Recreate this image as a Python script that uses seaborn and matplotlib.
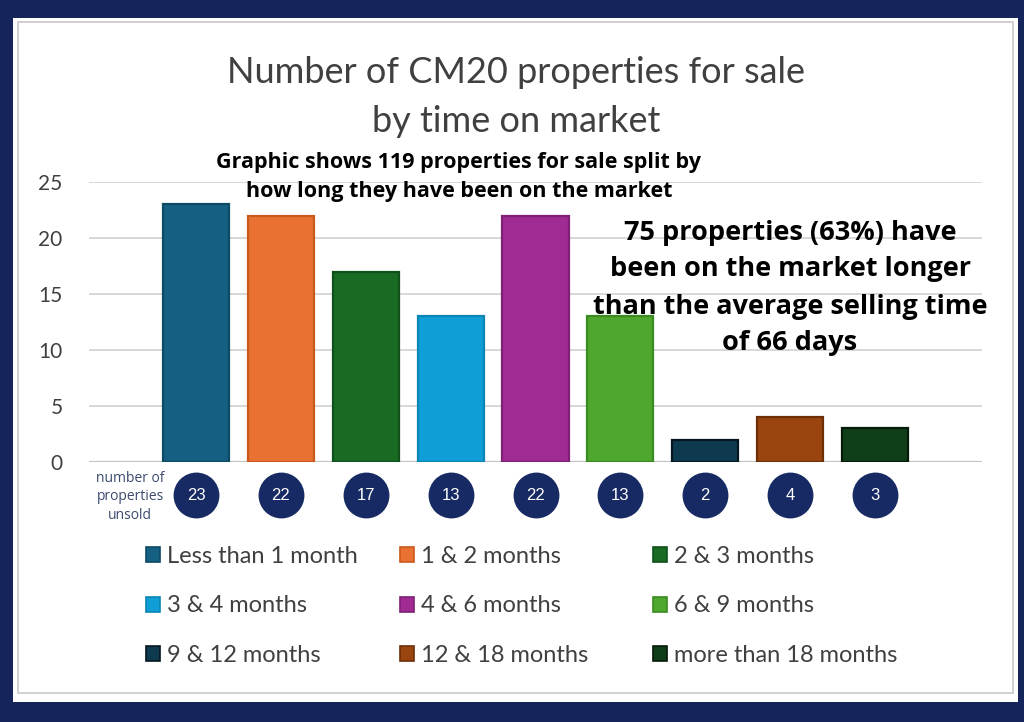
import matplotlib
matplotlib.use("Agg")
import matplotlib.pyplot as plt
from matplotlib.patches import Rectangle, Patch
import pandas as pd
import seaborn as sns

categories = ["Less than 1 month", "1 & 2 months", "2 & 3 months",
              "3 & 4 months", "4 & 6 months", "6 & 9 months",
              "9 & 12 months", "12 & 18 months", "more than 18 months"]
unsold = [23, 22, 17, 13, 22, 13, 2, 4, 3]
y_ticks = [0, 5, 10, 15, 20, 25]

bar_colors = ["#156082", "#e97132", "#196b24", "#0f9ed5", "#a02b93",
              "#4ea72e", "#0e3a50", "#9a4510", "#0f3e18"]
edge_colors = ["#0d4a66", "#c95a1e", "#10501a", "#0b85b5", "#7f1f75",
               "#3c8a22", "#06161f", "#6e2f08", "#061a09"]

title = "Number of CM20 properties for sale\nby time on market"
subtitle = "Graphic shows 119 properties for sale split by\nhow long they have been on the market"
note = "75 properties (63%) have\nbeen on the market longer\nthan the average selling time\nof 66 days"
circle_label = "number of\nproperties\nunsold"

NAVY = "#15245a"
GREY_TXT = "#404040"
W, H = 1024, 722

sns.set_style("white")
plt.rcParams["font.family"] = ["Lato", "DejaVu Sans"]

df = pd.DataFrame({"period": categories, "count": unsold})

fig = plt.figure(figsize=(W / 100, H / 100), dpi=100, facecolor=NAVY)

# white sheet and its faint frame, kept behind the axes
fig.patches.append(Rectangle((13 / W, 1 - 702 / H), (1018 - 13) / W, (702 - 18) / H,
                             transform=fig.transFigure, facecolor="white",
                             edgecolor="none", zorder=-3))
fig.patches.append(Rectangle((18 / W, 1 - 693 / H), (1013 - 18) / W, (693 - 22) / H,
                             transform=fig.transFigure, facecolor="none",
                             edgecolor="#c8c8c8", linewidth=1.2, zorder=-2))

ax = fig.add_axes([89 / W, 1 - 462 / H, (982 - 89) / W, (462 - 182) / H])
ax.set_facecolor("none")
ax.set_zorder(2)
sns.barplot(data=df, x="period", y="count", hue="period", order=categories,
            hue_order=categories, palette=bar_colors, width=0.78,
            saturation=1, legend=False, ax=ax, zorder=3)
for p, ec in zip(ax.patches, edge_colors):
    p.set_edgecolor(ec)
    p.set_linewidth(1.6)

ax.set_xlim(-1.26, len(categories) - 1 + 1.26)
ax.set_ylim(0, 25)
ax.set_yticks(y_ticks)
ax.set_yticklabels([str(t) for t in y_ticks], fontsize=15, color=GREY_TXT)
ax.tick_params(axis="y", length=0, pad=19)
ax.set_xticks([])
ax.set_xlabel("")
ax.set_ylabel("")
for s in ax.spines.values():
    s.set_visible(False)
ax.set_axisbelow(True)
ax.grid(axis="y", color="#d4d4d4", linewidth=1.3)
ax.axhline(0, color="#c4c4c4", linewidth=1.6, zorder=2)

# circles with counts under each bar
circle_y = -2.95
ax.scatter(range(len(categories)), [circle_y] * len(categories), s=1090,
           color="#172a63", clip_on=False, zorder=4, linewidths=0)
for i, v in enumerate(unsold):
    ax.text(i, circle_y, str(v), ha="center", va="center", color="white",
            fontsize=12, family=["Liberation Sans", "DejaVu Sans"],
            clip_on=False, zorder=5)

fig.text(130 / W, 1 - 497 / H, circle_label, ha="center", va="center",
         fontsize=10, color="#3c4a6e", linespacing=1.3,
         family=["Open Sans", "DejaVu Sans"])

# titles and notes
fig.text(516 / W, 1 - 97 / H, title, ha="center", va="center", fontsize=26,
         color=GREY_TXT, linespacing=1.6)
fig.text(459 / W, 1 - 177 / H, subtitle, ha="center", va="center",
         fontsize=15.5, fontweight="bold", color="black", linespacing=1.5,
         family=["Open Sans", "DejaVu Sans"])
fig.text(790 / W, 1 - 288 / H, note, ha="center", va="center",
         fontsize=19.5, fontweight="bold", color="black", linespacing=1.55,
         family=["Open Sans", "DejaVu Sans"])

# legend: three columns of three entries, rows read left to right
handles = [Patch(facecolor=c, edgecolor=e, linewidth=1.2)
           for c, e in zip(bar_colors, edge_colors)]
col_x = [146, 400, 653]
for c in range(3):
    idx = [r * 3 + c for r in range(3)]
    fig.legend([handles[i] for i in idx], [categories[i] for i in idx],
               loc="center left", bbox_to_anchor=(col_x[c] / W, 1 - 606 / H),
               frameon=False, fontsize=17, labelcolor=GREY_TXT,
               handlelength=0.6, handleheight=0.6, handletextpad=0.28,
               labelspacing=1.2, borderpad=0, borderaxespad=0)

fig.savefig("out.png", dpi=100, facecolor=NAVY)
